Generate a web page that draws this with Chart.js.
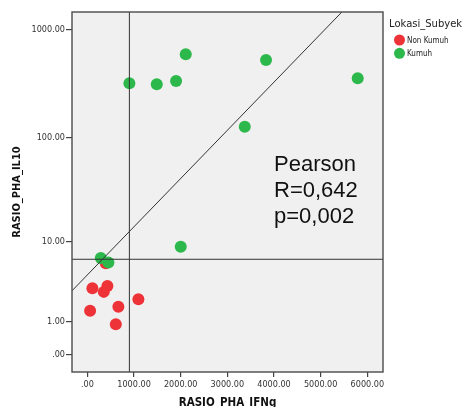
<!DOCTYPE html>
<html>
<head>
<meta charset="utf-8">
<script src="https://cdn.jsdelivr.net/npm/chart.js@4.4.1/dist/chart.umd.min.js"></script>
<style>
  html, body { margin: 0; padding: 0; background: #ffffff; }
  #wrap { width: 465px; height: 407px; position: relative; }
</style>
</head>
<body>
<div id="wrap"><canvas id="myChart"></canvas></div>
<script>
// data
const groups = ['Non Kumuh', 'Kumuh'];
const groupColors = ['#EE3338', '#2DB84B'];

const nonKumuhX = [394, 107, 429, 351, 1093, 664, 58, 609];
const nonKumuhY = [6.0, 3.1, 3.3, 2.8, 2.25, 1.77, 1.55, 0.91];

const kumuhX = [900, 1487, 1901, 2108, 3829, 5794, 3373, 2001, 287, 450];
const kumuhY = [320, 313, 336, 593, 525, 355, 126, 8.9, 6.8, 6.1];

// reference lines and fit line
const refX = 900;
const refY = 6.6;
const fitX = [-330, 6340];
const fitY = [2.89, 3614];

const xTicks = [0, 1000, 2000, 3000, 4000, 5000, 6000];
const yTicks = [0, 1, 10, 100, 1000];

const legendTitle = 'Lokasi_Subyek';
const statLines = ['Pearson', 'R=0,642', 'p=0,002'];

const tickFont = "'DejaVu Sans Condensed', 'DejaVu Sans', sans-serif";

// axis in log10(y + 1), like the SPSS plot
class Log1pScale extends Chart.LinearScale {
    static id = 'log1p';
    static defaults = Chart.LinearScale.defaults;
    getPixelForValue(value) {
        return super.getPixelForValue(Math.log10(value + 1));
    }
    getValueForPixel(pixel) {
        return Math.pow(10, super.getValueForPixel(pixel)) - 1;
    }
}
Chart.register(Log1pScale);

function pts(xs, ys) {
    return xs.map((x, i) => ({ x: x, y: ys[i] }));
}

function fmt(v) {
    return v === 0 ? '.00' : v.toFixed(2);
}

const plotBox = {
    id: 'plotBox',
    beforeDraw(chart) {
        const { ctx, chartArea: { left, top, width, height } } = chart;
        ctx.save();
        ctx.fillStyle = '#F0F0F0';
        ctx.fillRect(left, top, width, height);
        ctx.restore();
    },
    afterDraw(chart) {
        const { ctx, chartArea: { left, top, width, height, right } } = chart;
        ctx.save();
        ctx.strokeStyle = '#4a4a4a';
        ctx.lineWidth = 1.4;
        ctx.strokeRect(left, top, width, height);

        // stat text
        ctx.fillStyle = '#111111';
        ctx.font = "22px 'Liberation Sans', Arial, sans-serif";
        ctx.textAlign = 'left';
        ctx.textBaseline = 'alphabetic';
        statLines.forEach((t, i) => {
            ctx.fillText(t, 274, 171 + i * 26);
        });

        // legend
        ctx.fillStyle = '#222222';
        ctx.font = "10px 'DejaVu Sans', sans-serif";
        ctx.fillText(legendTitle, right + 6, 27);
        ctx.font = "8px " + tickFont;
        ctx.textBaseline = 'middle';
        groups.forEach((g, i) => {
            const y = 40 + i * 13.3;
            ctx.fillStyle = groupColors[i];
            ctx.beginPath();
            ctx.arc(right + 16.5, y, 5.5, 0, Math.PI * 2);
            ctx.fill();
            ctx.fillStyle = '#222222';
            ctx.fillText(g, right + 24, y + 0.5);
        });
        ctx.restore();
    }
};

const lineStyle = {
    showLine: true,
    pointRadius: 0,
    borderColor: '#333333',
    borderWidth: 1,
    order: 0
};

const data = {
    datasets: [
        Object.assign({ label: 'fit', data: pts(fitX, fitY) }, lineStyle),
        Object.assign({ label: 'refX', data: [{ x: refX, y: -0.5 }, { x: refX, y: 5000 }] }, lineStyle),
        Object.assign({ label: 'refY', data: [{ x: -1000, y: refY }, { x: 7000, y: refY }] }, lineStyle),
        {
            label: groups[1],
            data: pts(kumuhX, kumuhY),
            backgroundColor: groupColors[1],
            borderWidth: 0,
            pointRadius: 6,
            order: 1
        },
        {
            label: groups[0],
            data: pts(nonKumuhX, nonKumuhY),
            backgroundColor: groupColors[0],
            borderWidth: 0,
            pointRadius: 6,
            order: 2
        }
    ]
};

const config = {
    type: 'scatter',
    data,
    plugins: [plotBox],
    options: {
        responsive: true,
        maintainAspectRatio: false,
        animation: false,
        layout: { padding: { top: 12, right: 82, left: 0, bottom: 0 } },
        plugins: {
            legend: { display: false },
            tooltip: { enabled: false }
        },
        scales: {
            x: {
                type: 'linear',
                min: -330,
                max: 6336,
                bounds: 'data',
                afterBuildTicks: (scale) => { scale.ticks = xTicks.map(v => ({ value: v })); },
                afterFit: (scale) => { scale.height = 35; },
                border: { display: false },
                grid: { drawOnChartArea: false, drawTicks: true, tickLength: 5, color: '#444444', lineWidth: 1.2 },
                ticks: {
                    padding: 2,
                    maxRotation: 0,
                    color: '#333333',
                    font: { family: tickFont, size: 9 },
                    callback: (v) => fmt(v)
                },
                title: {
                    display: true,
                    text: 'RASIO_PHA_IFNg',
                    color: '#111111',
                    font: { family: "'DejaVu Sans Condensed', 'DejaVu Sans', sans-serif", size: 11.5, weight: 'bold', lineHeight: 1 },
                    padding: { top: 0, bottom: -2 }
                }
            },
            y: {
                type: 'log1p',
                min: -0.16,
                max: 3.164,
                bounds: 'data',
                afterBuildTicks: (scale) => { scale.ticks = yTicks.map(v => ({ value: v })); },
                afterFit: (scale) => { scale.width = 72; },
                border: { display: false },
                grid: { drawOnChartArea: false, drawTicks: true, tickLength: 6, color: '#444444', lineWidth: 1.2 },
                ticks: {
                    padding: 1,
                    color: '#333333',
                    font: { family: tickFont, size: 9 },
                    callback: (v) => fmt(v)
                },
                title: {
                    display: true,
                    text: 'RASIO_PHA_IL10',
                    color: '#111111',
                    font: { family: "'DejaVu Sans Condensed', 'DejaVu Sans', sans-serif", size: 11, weight: 'bold', lineHeight: 1 },
                    padding: { top: 11.5, bottom: 0 }
                }
            }
        }
    }
};

const myChart = new Chart(document.getElementById('myChart'), config);
</script>
</body>
</html>
